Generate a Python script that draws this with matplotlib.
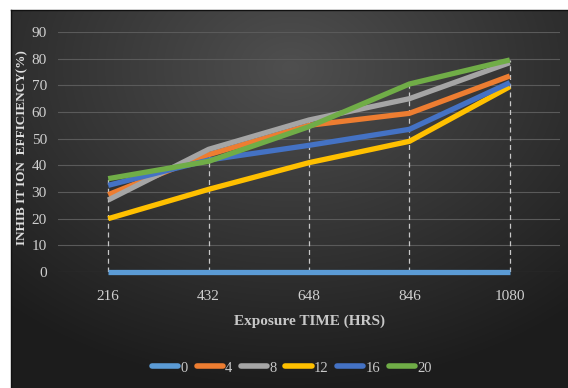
import numpy as np
import matplotlib
matplotlib.use("Agg")
import matplotlib.pyplot as plt
from matplotlib.lines import Line2D

categories = ["216", "432", "648", "846", "1080"]
series_names = ["0", "4", "8", "12", "16", "20"]
s0 = [0, 0, 0, 0, 0]
s4 = [29, 44, 55, 59.5, 73.5]
s8 = [27, 46, 57, 65, 78.5]
s12 = [20, 31, 41, 49, 69.5]
s16 = [32.5, 42, 47.5, 53.5, 71]
s20 = [35, 41.5, 54.5, 70.5, 79.5]
all_series = [s0, s4, s8, s12, s16, s20]
colors = ["#5B9BD5", "#ED7D31", "#A5A5A5", "#FFC000", "#4472C4", "#70AD47"]

W, H = 568, 388
fig = plt.figure(figsize=(W / 100, H / 100), dpi=100)
fig.patch.set_facecolor("white")

# background gradient panel
bg = fig.add_axes([11 / W, 0, 1 - 11 / W, 1 - 10 / H])
ny, nx = 200, 300
yy, xx = np.mgrid[0:ny, 0:nx]
cx, cy = 0.5 * nx, 0.15 * ny
d = np.sqrt(((xx - cx) / nx) ** 2 + ((yy - cy) / ny * 0.9) ** 2)
v = 0.31 - 0.26 * d
v = np.clip(v, 0.11, 0.32)
img = np.dstack([v, v, v])
bg.imshow(img, aspect="auto", extent=[0, 1, 0, 1], interpolation="bilinear")
bg.set_xticks([])
bg.set_yticks([])
for name, sp in bg.spines.items():
    sp.set_visible(name in ("top", "left"))
    sp.set_color("#111111")
    sp.set_linewidth(1.0)

ax = fig.add_axes([58 / W, (H - 272) / H, 502 / W, 240 / H])
ax.set_facecolor("none")
x = np.arange(len(categories)) + 0.5
ax.set_xlim(0, len(categories))
ax.set_ylim(0, 90)
ax.set_yticks(range(0, 91, 10))
ax.set_xticks(x)
ax.set_xticklabels(categories)
ax.grid(axis="y", color="#5a5a5a", linewidth=0.8)
ax.set_axisbelow(True)
for sp in ax.spines.values():
    sp.set_visible(False)
ax.tick_params(length=0, colors="#cfcfcf", labelsize=11)
ax.tick_params(axis="y", pad=8)
ax.tick_params(axis="x", pad=13)
for lab in ax.get_xticklabels() + ax.get_yticklabels():
    lab.set_family("Liberation Serif")

# drop lines
maxv = np.max(np.array(all_series), axis=0)
ax.vlines(x, 0, maxv, colors="#c8c8c8", linestyles=(0, (4, 3)), linewidth=0.9, zorder=1)

for name, vals, c in zip(series_names, all_series, colors):
    ax.plot(x, vals, color=c, linewidth=3.8, solid_capstyle="butt", clip_on=False, zorder=3, label=name)

ax.set_xlabel("Exposure TIME (HRS)", family="Liberation Serif", fontweight="bold",
              fontsize=11, color="#c8c8c8", labelpad=8)
ax.set_ylabel("INHIB IT ION  EFFICIENCY(%)", family="Liberation Serif", fontweight="bold",
              fontsize=9.5, color="#e0e0e0", labelpad=6)
ax.yaxis.set_label_coords(-0.06, 0.52)

handles = [Line2D([0], [0], color=c, linewidth=4, solid_capstyle="round") for c in colors]
leg = fig.legend(handles, series_names, loc="center", bbox_to_anchor=(292 / W, 1 - 368 / H),
                 ncol=6, frameon=False, handlelength=1.8, handletextpad=0.15, columnspacing=0.6,
                 prop={"family": "Liberation Serif", "size": 10.5})
for t in leg.get_texts():
    t.set_color("#c8c8c8")

fig.savefig("out.png", dpi=100)
